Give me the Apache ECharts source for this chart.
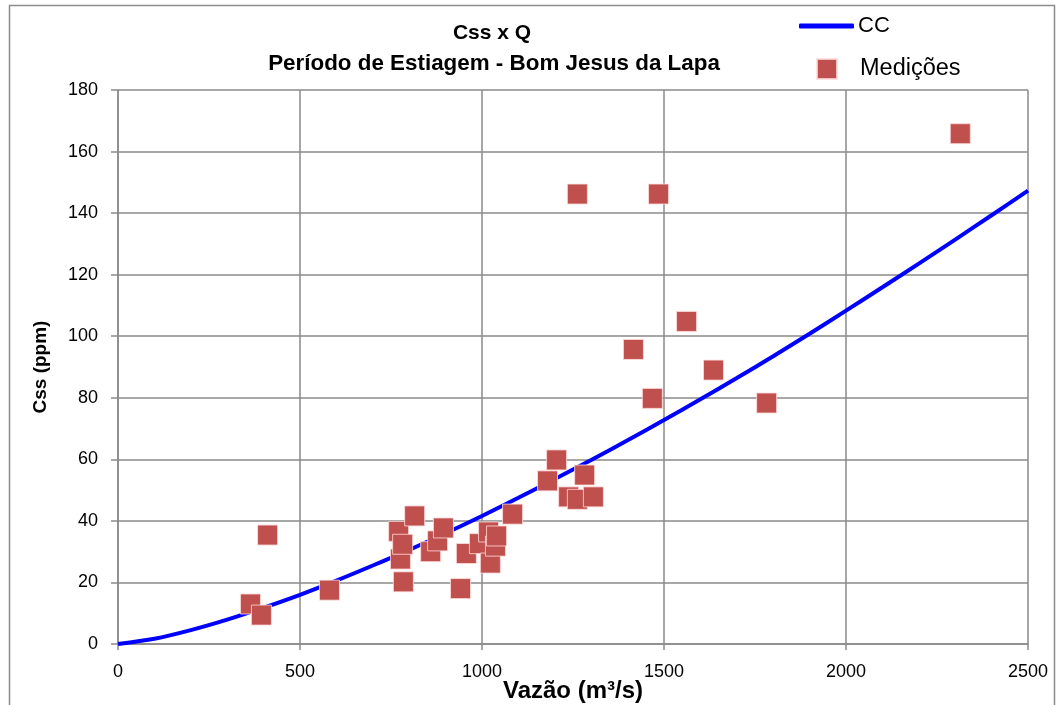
<!DOCTYPE html>
<html>
<head>
<meta charset="utf-8">
<script src="https://cdn.jsdelivr.net/npm/echarts@6/dist/echarts.min.js"></script>
<style>
html,body{margin:0;padding:0;background:#fff;}
#chart{width:1058px;height:705px;}
</style>
</head>
<body>
<div id="chart"></div>
<script>
// Tick settings
const xTicks = [0, 500, 1000, 1500, 2000, 2500];
const yTicks = [0, 20, 40, 60, 80, 100, 120, 140, 160, 180];

// Fitted curve "CC"
const ccQ   = [0, 100, 200, 300, 400, 500, 600, 700, 800, 900, 1000, 1100, 1200, 1300, 1400, 1500, 1600, 1700, 1800, 1900, 2000, 2100, 2200, 2300, 2400, 2500];
const ccCss = [0, 1.7, 4.5, 7.9, 11.8, 16.0, 20.6, 25.5, 30.6, 36.0, 41.6, 47.5, 53.6, 59.8, 66.2, 72.8, 79.5, 86.4, 93.5, 100.8, 108.3, 115.9, 123.6, 131.4, 139.3, 147.3];

// Measurements "Medições"
const medQ   = [364, 394, 411, 581, 771, 776, 782, 784, 815, 859, 878, 894, 941, 957, 993, 1018, 1023, 1037, 1040, 1084, 1180, 1205, 1238, 1262, 1282, 1306, 1262, 1485, 1416, 1468, 1562, 1636, 1782, 2314];
const medCss = [13.0, 9.4, 35.4, 17.5, 36.6, 27.6, 32.4, 20.2, 41.6, 30.0, 33.5, 37.7, 18.0, 29.4, 32.6, 36.4, 26.3, 31.8, 35.1, 42.2, 53.0, 59.8, 47.8, 47.0, 54.9, 47.8, 146.2, 146.2, 95.7, 79.8, 104.8, 89.0, 78.3, 165.8];

const cc = ccQ.map((q, i) => [q, ccCss[i]]);
const med = medQ.map((q, i) => [q, medCss[i]]);

const FONT = "'Liberation Sans', 'DejaVu Sans', sans-serif";
const GRID = '#8a8a8a';

const chart = echarts.init(document.getElementById('chart'), null, {renderer: 'canvas'});
chart.setOption({
  backgroundColor: '#ffffff',
  animation: false,
  graphic: [{
    type: 'rect', left: 7, top: 3, silent: true,
    shape: {width: 1045, height: 720},
    style: {fill: 'none', stroke: '#8c8c8c', lineWidth: 1.5}
  }],
  title: [{
    text: 'Css x Q',
    left: 487, top: 18, textAlign: 'center',
    textStyle: {fontFamily: FONT, fontSize: 21, fontWeight: 'bold', color: '#000'}
  }, {
    text: 'Período de Estiagem - Bom Jesus da Lapa',
    left: 489, top: 48, textAlign: 'center',
    textStyle: {fontFamily: FONT, fontSize: 22.4, fontWeight: 'bold', color: '#000'}
  }],
  legend: [{
    data: [{name: 'CC', icon: 'roundRect'}],
    left: 794, top: 10, orient: 'vertical',
    itemWidth: 55, itemHeight: 5, itemGap: 0,
    textStyle: {fontFamily: FONT, fontSize: 22, color: '#000', padding: [0, 0, 0, -1]}
  }, {
    data: [{name: 'Medições', icon: 'path://M0,0 L10,0 L10,10 L0,10 Z'}],
    left: 811, top: 52, orient: 'vertical',
    itemWidth: 50, itemHeight: 20,
    textStyle: {fontFamily: FONT, fontSize: 23.5, color: '#000', padding: [0, 0, 0, 3]}
  }],
  grid: {left: 118, right: 30, top: 90, bottom: 61, containLabel: false, outerBoundsMode: 'none'},
  xAxis: {
    type: 'value', min: xTicks[0], max: xTicks[xTicks.length - 1], interval: 500,
    name: 'Vazão (m³/s)', nameLocation: 'middle', nameGap: 35, nameMoveOverlap: false,
    nameTextStyle: {fontFamily: FONT, fontSize: 24, fontWeight: 'bold', color: '#000'},
    axisLine: {show: true, onZero: false, lineStyle: {color: GRID, width: 1.5}},
    axisTick: {show: true, length: 6, lineStyle: {color: GRID, width: 1.5}},
    axisLabel: {fontFamily: FONT, fontSize: 18, color: '#000', margin: 19, formatter: v => String(v)},
    splitLine: {show: true, lineStyle: {color: GRID, width: 1.5}}
  },
  yAxis: {
    type: 'value', min: yTicks[0], max: yTicks[yTicks.length - 1], interval: 20,
    name: 'Css (ppm)', nameLocation: 'middle', nameGap: 68, nameRotate: 90, nameMoveOverlap: false,
    nameTextStyle: {fontFamily: FONT, fontSize: 19, fontWeight: 'bold', color: '#000'},
    axisLine: {show: true, lineStyle: {color: GRID, width: 1.5}},
    axisTick: {show: true, length: 7, lineStyle: {color: GRID, width: 1.5}},
    axisLabel: {fontFamily: FONT, fontSize: 18, color: '#000', margin: 20, formatter: v => String(v)},
    splitLine: {show: true, lineStyle: {color: GRID, width: 1.5}}
  },
  series: [{
    name: 'CC', type: 'line', data: cc, smooth: 0.3, symbol: 'none',
    lineStyle: {color: '#0000ff', width: 4}, itemStyle: {color: '#0000ff'}, z: 2
  }, {
    name: 'Medições', type: 'scatter', data: med, symbol: 'rect', symbolSize: 20,
    itemStyle: {color: '#c0504d', borderColor: 'rgba(255,220,220,0.8)', borderWidth: 1, opacity: 1}, z: 3
  }]
});
</script>
</body>
</html>
